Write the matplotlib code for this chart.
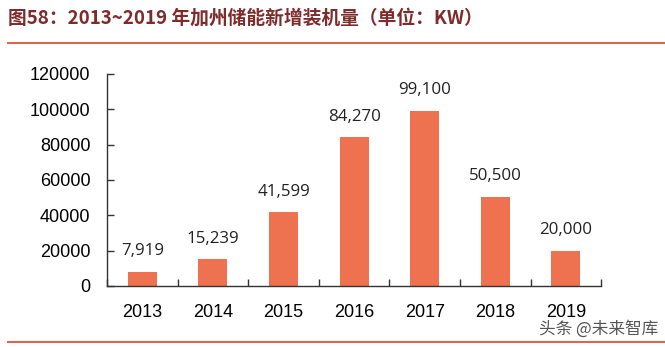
import matplotlib
matplotlib.use("Agg")
import matplotlib.pyplot as plt
import numpy as np

years = ["2013", "2014", "2015", "2016", "2017", "2018", "2019"]
capacity_kw = [7919, 15239, 41599, 84270, 99100, 50500, 20000]
y_ticks = [0, 20000, 40000, 60000, 80000, 100000, 120000]

title = "图58：2013~2019 年加州储能新增装机量（单位：KW）"
watermark = "头条 @未来智库"

BAR = "#EE7150"
TITLE_RED = "#7E2B2B"
RULE = "#D9694A"

fig = plt.figure(figsize=(6.65, 3.47), dpi=100)
ax = fig.add_axes([0.161, 0.176, 0.743, 0.611])

x = np.arange(len(years))
ax.bar(x, capacity_kw, width=0.41, color=BAR, zorder=2)
for xi, v in zip(x, capacity_kw):
    ax.annotate(f"{v:,}", (xi, v), xytext=(0, 9), textcoords="offset points",
                ha="center", va="bottom", fontsize=12.2, family="Open Sans", color="#222222")

ax.set_xlim(-0.5, len(years) - 0.5)
ax.set_ylim(0, 120000)
ax.set_yticks(y_ticks)
ax.set_yticklabels([str(t) for t in y_ticks], family="Liberation Sans", fontsize=13)
ax.set_xticks(x)
ax.set_xticklabels(years, family="Liberation Sans", fontsize=13)
ax.set_xticks(np.arange(-0.5, len(years) + 0.5, 1.0), minor=True)
ax.tick_params(axis="x", which="major", length=0, pad=13)
ax.tick_params(axis="x", which="minor", direction="in", length=5, width=1, color="#333333")
ax.tick_params(axis="y", direction="in", length=5, width=1, color="#333333", pad=12)

for side in ("top", "right"):
    ax.spines[side].set_visible(False)
for side in ("left", "bottom"):
    ax.spines[side].set_color("#333333")
    ax.spines[side].set_linewidth(1)

fig.text(0.012, 0.948, title, fontsize=13.5, fontweight="bold", color=TITLE_RED,
         family=["Noto Sans CJK SC", "DejaVu Sans"], va="center", ha="left")
fig.add_artist(plt.Line2D([0.012, 1.0], [0.876, 0.876], color=RULE, lw=1.5, transform=fig.transFigure))
fig.add_artist(plt.Line2D([0.012, 1.0], [0.014, 0.014], color=RULE, lw=1.5, transform=fig.transFigure))
fig.text(0.99, 0.052, watermark, fontsize=12, color="#555555",
         family=["Noto Sans CJK SC", "DejaVu Sans"], ha="right", va="center")

fig.savefig("out.png", dpi=100)
